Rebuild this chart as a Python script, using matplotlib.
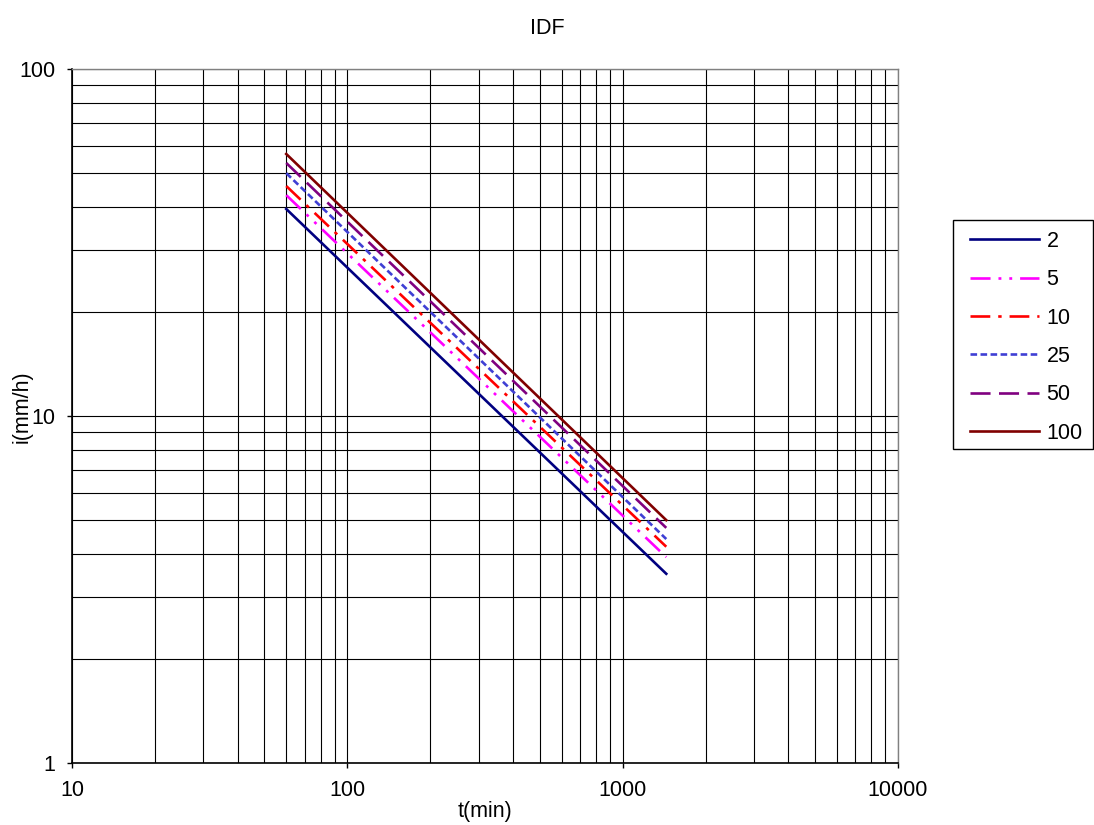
import matplotlib
matplotlib.use("Agg")
import matplotlib.pyplot as plt
from matplotlib.patches import Rectangle
from matplotlib.ticker import LogLocator, FixedLocator, FixedFormatter, NullFormatter

plt.rcParams['font.family'] = ['Liberation Sans', 'DejaVu Sans']

# Rainfall intensity (mm/h) against duration (min) per return period (years)
durations = [60, 1440]
i_2 = [39.5, 3.51]
i_5 = [43.3, 3.92]
i_10 = [46.0, 4.20]
i_25 = [50.1, 4.42]
i_50 = [53.6, 4.76]
i_100 = [56.9, 5.01]
return_periods = ["2", "5", "10", "25", "50", "100"]

x_ticks = [10, 100, 1000, 10000]
y_ticks = [1, 10, 100]

series = [i_2, i_5, i_10, i_25, i_50, i_100]
colors = ["#000080", "#FF00FF", "#FF0000", "#3F3FD4", "#800080", "#800000"]
styles = ["-",
          (0, (7.6, 3.0, 1.1, 3.0, 1.1, 3.0)),
          (0, (7.5, 3.0, 1.3, 3.0)),
          (0, (2.5, 1.3)),
          (0, (7.6, 3.2)),
          "-"]

W, H = 1094, 825
fig = plt.figure(figsize=(W / 100, H / 100), dpi=100)
ax = fig.add_axes([72 / W, 1 - 763 / H, (898 - 72) / W, (763 - 69) / H])

for vals, c, ls, lab in zip(series, colors, styles, return_periods):
    ax.plot(durations, vals, color=c, linestyle=ls, linewidth=1.9, label=lab)

ax.set_xscale("log")
ax.set_yscale("log")
ax.set_xlim(10, 10000)
ax.set_ylim(1, 100)

ax.xaxis.set_major_locator(FixedLocator(x_ticks))
ax.xaxis.set_major_formatter(FixedFormatter([str(v) for v in x_ticks]))
ax.yaxis.set_major_locator(FixedLocator(y_ticks))
ax.yaxis.set_major_formatter(FixedFormatter([str(v) for v in y_ticks]))
ax.xaxis.set_minor_locator(LogLocator(base=10, subs=range(2, 10)))
ax.yaxis.set_minor_locator(LogLocator(base=10, subs=range(2, 10)))
ax.xaxis.set_minor_formatter(NullFormatter())
ax.yaxis.set_minor_formatter(NullFormatter())

ax.grid(True, which="both", color="black", linewidth=0.8)
ax.set_axisbelow(True)
ax.tick_params(which="major", direction="out", length=3.6, width=1, labelsize=15.5,
               color="black")
ax.tick_params(axis="x", which="major", pad=9)
ax.tick_params(axis="y", which="major", pad=8.6)
ax.tick_params(which="minor", length=0)
for side in ["left", "bottom"]:
    ax.spines[side].set_color("black")
    ax.spines[side].set_linewidth(1.2)
for side in ["top", "right"]:
    ax.spines[side].set_color("#808080")
    ax.spines[side].set_linewidth(1.0)

fig.text(0.5, 1 - 28 / H, "IDF", fontsize=15.5, ha="center", va="center")
ax.set_xlabel("t(min)", fontsize=15.5)
ax.xaxis.set_label_coords(0.5, -(811 - 763) / 694)
ax.xaxis.label.set_verticalalignment("center")
ax.set_ylabel("i(mm/h)", fontsize=15.5)
ax.yaxis.set_label_coords(-(72 - 22) / 826, 0.5 + (416 - 407) / 694)
ax.yaxis.label.set_verticalalignment("center")

# Legend entries without their own frame; a fixed box is drawn around them
leg = fig.legend(loc="upper left", bbox_to_anchor=(970 / W, 1 - 230.7 / H),
                 fontsize=15.5, frameon=False, handlelength=3.2,
                 handletextpad=0.35, labelspacing=0.81, borderpad=0,
                 borderaxespad=0)
fig.add_artist(Rectangle((953 / W, 1 - 449 / H), (1093 - 953) / W, (449 - 220) / H,
                         transform=fig.transFigure, facecolor="none",
                         edgecolor="black", linewidth=1.0))

fig.savefig("out.png", dpi=100)
